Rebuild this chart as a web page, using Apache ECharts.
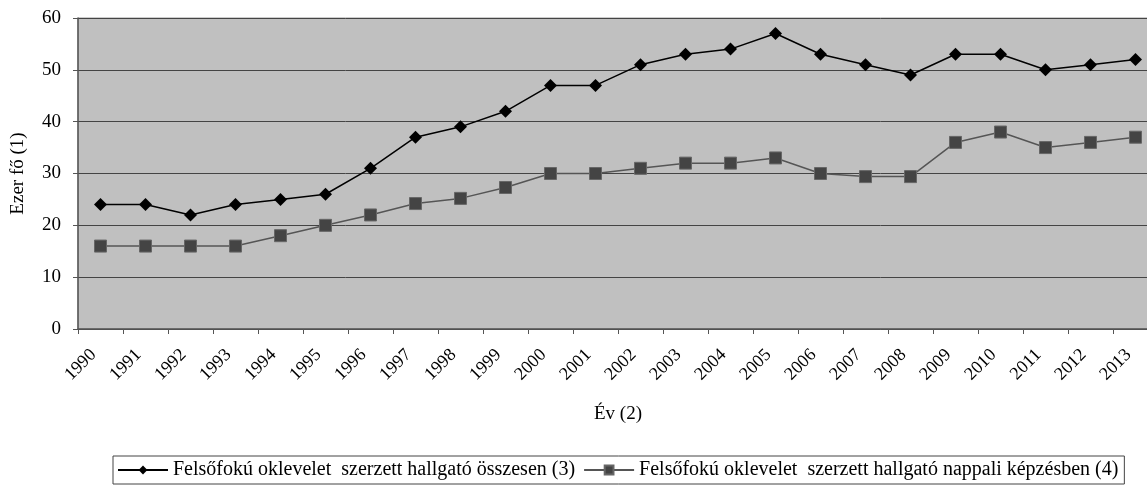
<!DOCTYPE html>
<html>
<head>
<meta charset="utf-8">
<script src="https://cdn.jsdelivr.net/npm/echarts@6/dist/echarts.min.js"></script>
<style>
html,body{margin:0;padding:0;background:#fff;}
#chart{width:1147px;height:486px;}
</style>
</head>
<body>
<div id="chart"></div>
<script>
// évek
var years=['1990','1991','1992','1993','1994','1995','1996','1997','1998','1999','2000','2001',
           '2002','2003','2004','2005','2006','2007','2008','2009','2010','2011','2012','2013'];
// összesen (3)
var osszesen=[24,24,22,24,25,26,31,37,39,42,47,47,51,53,54,57,53,51,49,53,53,50,51,52];
// nappali képzésben (4)
var nappali=[16,16,16,16,18,20,22,24.2,25.2,27.3,30,30,31,32,32,33,30,29.4,29.4,36,38,35,36,37];
var yTicks=[0,10,20,30,40,50,60];

var serif='"Liberation Serif","Times New Roman",serif';
var mychart=echarts.init(document.getElementById('chart'));

var option={
    animation:false,
    backgroundColor:'#fff',
    grid:{
        left:78, top:18, width:1080, height:311,
        outerBoundsMode:'none', containLabel:false,
        show:true, backgroundColor:'#c0c0c0', borderColor:'#9a9a9a', borderWidth:1
    },
    legend:{
        left:113, top:456,
        padding:[4,6,4,4],
        borderColor:'#444', borderWidth:1,
        itemWidth:50, itemHeight:11, itemGap:8,
        textStyle:{fontFamily:serif, fontSize:20, color:'#000'},
        data:['Felsőfokú oklevelet  szerzett hallgató összesen (3)',
              'Felsőfokú oklevelet  szerzett hallgató nappali képzésben (4)']
    },
    xAxis:{
        type:'category',
        data:years,
        boundaryGap:true,
        name:'Év (2)',
        nameLocation:'middle',
        nameGap:76,
        nameTextStyle:{fontFamily:serif, fontSize:19, color:'#000'},
        axisLine:{lineStyle:{color:'#555', width:1.5}},
        axisTick:{show:true, length:5, alignWithLabel:false, lineStyle:{color:'#555'}},
        axisLabel:{rotate:45, margin:16, padding:[0,10,0,0], fontFamily:serif, fontSize:18, color:'#000'}
    },
    yAxis:{
        type:'value',
        min:yTicks[0], max:yTicks[yTicks.length-1], interval:10,
        name:'Ezer fő (1)',
        nameLocation:'middle',
        nameGap:50,
        nameRotate:90,
        nameTextStyle:{fontFamily:serif, fontSize:19, color:'#000'},
        axisLine:{show:true, lineStyle:{color:'#555', width:1.5}},
        axisTick:{show:true, length:5, inside:false, lineStyle:{color:'#555'}},
        axisLabel:{margin:17, fontFamily:serif, fontSize:19, color:'#000'},
        splitLine:{show:true, lineStyle:{color:'#444', width:1}}
    },
    series:[
        {
            name:'Felsőfokú oklevelet  szerzett hallgató összesen (3)',
            type:'line',
            data:osszesen,
            symbol:'diamond',
            symbolSize:13,
            lineStyle:{color:'#000', width:1.5},
            itemStyle:{color:'#000'}
        },
        {
            name:'Felsőfokú oklevelet  szerzett hallgató nappali képzésben (4)',
            type:'line',
            data:nappali,
            symbol:'rect',
            symbolSize:12,
            lineStyle:{color:'#555', width:1.5},
            itemStyle:{color:'#444', borderColor:'#666', borderWidth:1}
        }
    ]
};
mychart.setOption(option);
</script>
</body>
</html>
